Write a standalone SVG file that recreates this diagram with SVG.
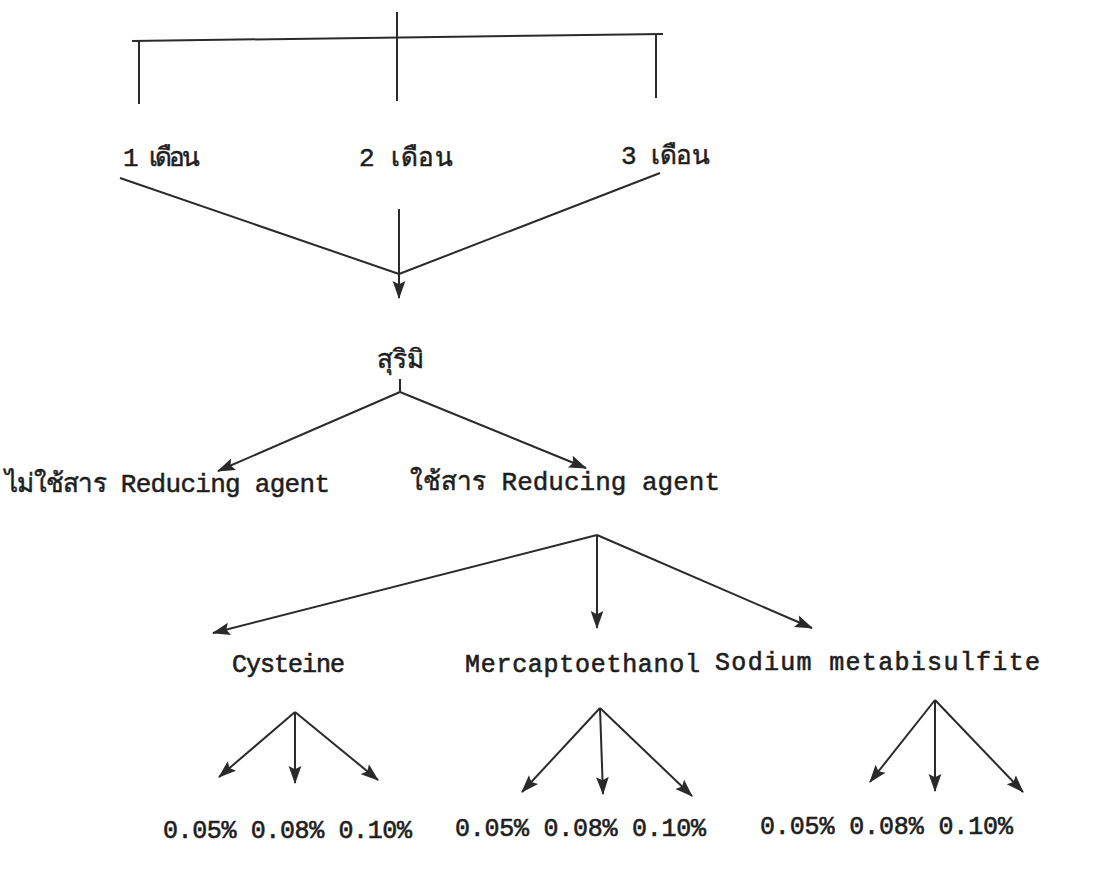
<svg xmlns="http://www.w3.org/2000/svg" width="1105" height="892" viewBox="0 0 1105 892">
<style>
.ln{stroke:#2a2a2a;stroke-width:2;fill:none}
.ar{stroke:#2a2a2a;stroke-width:2;fill:none;marker-end:url(#ah)}
.t{font-family:"Liberation Mono","DejaVu Sans Mono","Noto Sans",monospace;font-size:25px;fill:#1e1e1e;stroke:#1e1e1e;stroke-width:0.6}
.th{font-family:"Liberation Mono","DejaVu Sans Mono","Noto Sans",sans-serif;font-size:26px;fill:#1e1e1e;stroke:#1e1e1e;stroke-width:0.5}
</style>
<defs>
<marker id="ah" markerUnits="userSpaceOnUse" markerWidth="18" markerHeight="14" refX="16" refY="6" orient="auto" viewBox="0 0 17 12">
<path d="M0,0 L17,6 L0,12 L3,6 Z" fill="#2a2a2a"/>
</marker>
</defs>
<rect width="1105" height="892" fill="#ffffff"/>
<g id="connectors">
<line class="ln" x1="397" y1="12" x2="397" y2="101"/>
<line class="ln" x1="132" y1="41" x2="663" y2="34"/>
<line class="ln" x1="139" y1="41" x2="139" y2="104"/>
<line class="ln" x1="656" y1="35" x2="656" y2="98"/>
<line class="ln" x1="120" y1="178" x2="399" y2="274"/>
<line class="ln" x1="660" y1="173" x2="399" y2="274"/>
<line class="ar" x1="399" y1="209" x2="399" y2="298"/>
<line class="ln" x1="400" y1="379" x2="400" y2="392"/>
<line class="ar" x1="400" y1="392" x2="218" y2="471"/>
<line class="ar" x1="400" y1="392" x2="586" y2="468"/>
<line class="ar" x1="597" y1="535" x2="213" y2="633"/>
<line class="ar" x1="597" y1="535" x2="597" y2="628"/>
<line class="ar" x1="597" y1="535" x2="812" y2="628"/>
<line class="ar" x1="295" y1="712" x2="219" y2="777"/>
<line class="ar" x1="295" y1="712" x2="295" y2="783"/>
<line class="ar" x1="295" y1="712" x2="378" y2="780"/>
<line class="ar" x1="600" y1="708" x2="522" y2="792"/>
<line class="ar" x1="600" y1="708" x2="603" y2="794"/>
<line class="ar" x1="600" y1="708" x2="692" y2="796"/>
<line class="ar" x1="935" y1="700" x2="870" y2="782"/>
<line class="ar" x1="935" y1="700" x2="935" y2="791"/>
<line class="ar" x1="935" y1="700" x2="1023" y2="792"/>
</g>
<g id="n-m1"><text class="th" x="123" y="166" textLength="77">1 เดือน</text></g>
<g id="n-m2"><text class="th" x="359" y="166" textLength="94">2 เดือน</text></g>
<g id="n-m3"><text class="th" x="621" y="164" textLength="89">3 เดือน</text></g>
<g id="n-surimi"><text class="th" x="400" y="368" text-anchor="middle">สุริมิ</text></g>
<g id="n-noagent"><text class="th" x="5" y="492" textLength="325">ไม่ใช้สาร Reducing agent</text></g>
<g id="n-agent"><text class="th" x="410" y="490" textLength="310">ใช้สาร Reducing agent</text></g>
<g id="n-cys"><text class="t" x="232" y="672" textLength="113">Cysteine</text></g>
<g id="n-mer"><text class="t" x="465" y="672" textLength="235">Mercaptoethanol</text></g>
<g id="n-sod"><text class="t" x="715" y="670" textLength="325">Sodium metabisulfite</text></g>
<g id="n-cys-c"><text class="t" x="163" y="838" textLength="249">0.05% 0.08% 0.10%</text></g>
<g id="n-mer-c"><text class="t" x="455" y="836" textLength="251">0.05% 0.08% 0.10%</text></g>
<g id="n-sod-c"><text class="t" x="760" y="834" textLength="253">0.05% 0.08% 0.10%</text></g>
</svg>
